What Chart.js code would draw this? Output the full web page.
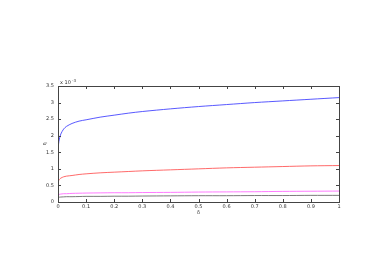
<!DOCTYPE html>
<html>
<head>
<meta charset="utf-8">
<script src="https://cdn.jsdelivr.net/npm/chart.js@4"></script>
<style>
  html, body { margin: 0; padding: 0; background: #fff; }
  #wrap { width: 374px; height: 277px; }
</style>
</head>
<body>
<div id="wrap"><canvas id="myChart" width="374" height="277"></canvas></div>
<script>
// valeurs en unites de 1e-3
const deltas = [0, 0.002, 0.005, 0.01, 0.02, 0.03, 0.05, 0.075, 0.1, 0.15, 0.2, 0.25, 0.3, 0.4, 0.5, 0.6, 0.7, 0.8, 0.9, 1.0];
const blueVals = [1.45, 1.75, 1.9, 2.05, 2.2, 2.28, 2.37, 2.44, 2.48, 2.56, 2.62, 2.68, 2.73, 2.81, 2.88, 2.94, 3.0, 3.05, 3.1, 3.15];
const redVals = [0.55, 0.64, 0.68, 0.72, 0.76, 0.78, 0.8, 0.83, 0.85, 0.88, 0.9, 0.92, 0.94, 0.97, 1.0, 1.03, 1.05, 1.07, 1.09, 1.1];
const magentaVals = [0.2, 0.22, 0.23, 0.24, 0.25, 0.25, 0.26, 0.265, 0.27, 0.275, 0.28, 0.28, 0.285, 0.29, 0.3, 0.305, 0.31, 0.32, 0.325, 0.33];
const grayVals = [0.13, 0.14, 0.145, 0.15, 0.155, 0.16, 0.16, 0.165, 0.17, 0.17, 0.175, 0.175, 0.18, 0.185, 0.19, 0.19, 0.195, 0.195, 0.2, 0.2];
const xTicks = [0, 0.1, 0.2, 0.3, 0.4, 0.5, 0.6, 0.7, 0.8, 0.9, 1];
const yTicks = [0, 0.5, 1, 1.5, 2, 2.5, 3, 3.5];

const toPoints = (vals) => vals.map((v, i) => ({ x: deltas[i], y: v }));

// cadre + petits ticks interieurs + facteur d'echelle
const frame = {
  id: 'frame',
  afterDraw(chart) {
    const { ctx, chartArea: a } = chart;
    ctx.save();
    ctx.strokeStyle = '#444';
    ctx.lineWidth = 1;
    ctx.strokeRect(a.left + 0.5, a.top + 0.5, a.right - a.left, a.bottom - a.top);
    const xs = chart.scales.x, ys = chart.scales.y;
    ctx.beginPath();
    xTicks.forEach(t => {
      const px = Math.round(xs.getPixelForValue(t)) + 0.5;
      ctx.moveTo(px, a.top); ctx.lineTo(px, a.top + 3);
      ctx.moveTo(px, a.bottom); ctx.lineTo(px, a.bottom - 3);
    });
    yTicks.forEach(t => {
      const py = Math.round(ys.getPixelForValue(t)) + 0.5;
      ctx.moveTo(a.right, py); ctx.lineTo(a.right - 3, py);
      ctx.moveTo(a.left, py); ctx.lineTo(a.left + 3, py);
    });
    ctx.stroke();
    ctx.fillStyle = '#333';
    ctx.font = '5px "DejaVu Sans"';
    ctx.textBaseline = 'bottom';
    ctx.fillText('x 10', a.left + 2, a.top - 1);
    ctx.font = '4px "DejaVu Sans"';
    ctx.fillText('-3', a.left + 14, a.top - 3);
    ctx.restore();
  }
};

const setup = () => {
  const ctxt = document.getElementById('myChart').getContext('2d');
  const fnt = { family: 'DejaVu Sans', size: 5 };
  new Chart(ctxt, {
    type: 'line',
    data: {
      datasets: [
        { data: toPoints(blueVals), borderColor: 'rgba(60,60,255,0.85)' },
        { data: toPoints(redVals), borderColor: 'rgba(255,80,80,0.85)' },
        { data: toPoints(magentaVals), borderColor: 'rgba(255,100,255,0.85)' },
        { data: toPoints(grayVals), borderColor: 'rgba(100,100,100,0.85)' }
      ].map(d => Object.assign(d, { borderWidth: 1, pointRadius: 0, tension: 0.3, fill: false }))
    },
    options: {
      animation: false,
      responsive: false,
      layout: { padding: { left: 42, top: 86, right: 35, bottom: 61 } },
      plugins: { legend: { display: false }, tooltip: { enabled: false } },
      scales: {
        x: {
          type: 'linear', min: 0, max: 1,
          afterBuildTicks: s => { s.ticks = xTicks.map(v => ({ value: v })); },
          afterFit: s => { s.height = 14; },
          grid: { drawOnChartArea: false, drawTicks: false },
          border: { color: '#222' },
          ticks: { font: fnt, color: '#333', padding: 2, maxRotation: 0, callback: v => String(v) },
          title: { display: true, text: 'δ', font: fnt, color: '#333', padding: 0 }
        },
        y: {
          type: 'linear', min: 0, max: 3.5,
          afterBuildTicks: s => { s.ticks = yTicks.map(v => ({ value: v })); },
          afterFit: s => { s.width = 16; },
          grid: { drawOnChartArea: false, drawTicks: false },
          border: { color: '#222' },
          ticks: { font: fnt, color: '#333', padding: 4, callback: v => String(v) },
          title: { display: true, text: 'η', font: fnt, color: '#333', padding: 0 }
        }
      }
    },
    plugins: [frame]
  });
};

window.addEventListener('DOMContentLoaded', setup);
</script>
</body>
</html>
